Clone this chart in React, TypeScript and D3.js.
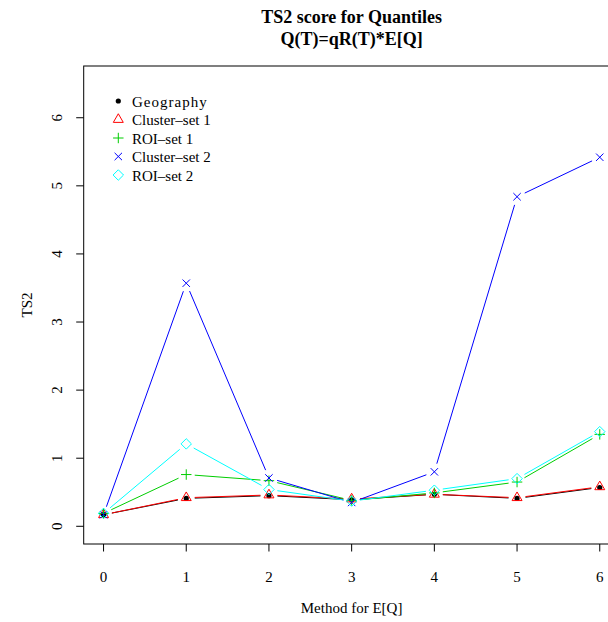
import React from "react";
import * as d3 from "d3";

const methods = [0, 1, 2, 3, 4, 5, 6];
const geography = [0.17, 0.41, 0.45, 0.39, 0.47, 0.41, 0.57];
const cluster1 = [0.17, 0.42, 0.46, 0.4, 0.47, 0.42, 0.58];
const roi1 = [0.19, 0.76, 0.67, 0.38, 0.49, 0.65, 1.35];
const cluster2 = [0.17, 3.57, 0.71, 0.35, 0.8, 4.84, 5.42];
const roi2 = [0.19, 1.21, 0.54, 0.37, 0.53, 0.7, 1.39];
const seriesNames = ["Geography", "Cluster\u2013set 1", "ROI\u2013set 1", "Cluster\u2013set 2", "ROI\u2013set 2"];
const seriesColors = ["#000000", "#FF0000", "#00CD00", "#0000FF", "#00FFFF"];
const seriesShapes = ["dot", "triangle", "plus", "cross", "diamond"];
const xTicks = [0, 1, 2, 3, 4, 5, 6];
const yTicks = [0, 1, 2, 3, 4, 5, 6];

const FONT = "'Liberation Serif', 'Times New Roman', serif";

function Marker({ shape, cx, cy, color }: { shape: string; cx: number; cy: number; color: string }) {
  const xc = 3.7;
  if (shape === "dot") return <circle cx={cx} cy={cy} r={2.6} fill={color} />;
  if (shape === "triangle") {
    const r = 1.555 * xc, a = 1.347 * xc, b = 0.778 * xc;
    return (
      <polygon
        points={`${cx},${cy - r} ${cx + a},${cy + b} ${cx - a},${cy + b}`}
        fill="none"
        stroke={color}
        strokeWidth={1}
      />
    );
  }
  if (shape === "plus") {
    const s = xc * Math.SQRT2;
    return (
      <path d={`M${cx - s},${cy}H${cx + s}M${cx},${cy - s}V${cy + s}`} stroke={color} strokeWidth={1} fill="none" />
    );
  }
  if (shape === "cross") {
    const s = xc;
    return (
      <path
        d={`M${cx - s},${cy - s}L${cx + s},${cy + s}M${cx - s},${cy + s}L${cx + s},${cy - s}`}
        stroke={color}
        strokeWidth={1}
        fill="none"
      />
    );
  }
  const s = xc * Math.SQRT2;
  return (
    <polygon
      points={`${cx},${cy - s} ${cx + s},${cy} ${cx},${cy + s} ${cx - s},${cy}`}
      fill="none"
      stroke={color}
      strokeWidth={1}
    />
  );
}

export default function App() {
  const W = 608, H = 622;
  const left = 83.7, right = 619.6, top = 66, bottom = 544;
  const x = d3.scaleLinear().domain([-0.24, 6.24]).range([left, right]);
  const y = d3.scaleLinear().domain([-0.26, 6.76]).range([bottom, top]);
  const series = [geography, cluster1, roi1, cluster2, roi2];
  const gap = 8.5;

  const segs = (vals: number[]) => {
    const out: string[] = [];
    for (let i = 0; i < vals.length - 1; i++) {
      const x0 = x(methods[i]), y0 = y(vals[i]);
      const x1 = x(methods[i + 1]), y1 = y(vals[i + 1]);
      const dx = x1 - x0, dy = y1 - y0;
      const len = Math.hypot(dx, dy);
      if (len <= 2 * gap) continue;
      const f = gap / len;
      out.push(`M${x0 + dx * f},${y0 + dy * f}L${x1 - dx * f},${y1 - dy * f}`);
    }
    return out.join("");
  };

  const legendX = 118.3, legendTextX = 132, legendY0 = 101, legendStep = 18.5;

  return (
    <svg width={W} height={H} style={{ display: "block", position: "absolute", left: 0, top: 0 }} fontFamily={FONT}>
      <rect x={0} y={0} width={W} height={H} fill="#fff" />
      <text x={351.6} y={23} textAnchor="middle" fontWeight="bold" fontSize={18}>
        TS2 score for Quantiles
      </text>
      <text x={351.6} y={45} textAnchor="middle" fontWeight="bold" fontSize={18}>
        Q(T)=qR(T)*E[Q]
      </text>
      <rect x={left} y={top} width={right - left} height={bottom - top} fill="none" stroke="#000" strokeWidth={1} />
      {xTicks.map((t) => (
        <g key={"x" + t}>
          <line x1={x(t)} x2={x(t)} y1={bottom} y2={bottom + 7.5} stroke="#000" strokeWidth={1} />
          <text x={x(t)} y={582} textAnchor="middle" fontSize={15}>
            {t}
          </text>
        </g>
      ))}
      {yTicks.map((t) => (
        <g key={"y" + t}>
          <line x1={left} x2={left - 7.5} y1={y(t)} y2={y(t)} stroke="#000" strokeWidth={1} />
          <text
            transform={`translate(62,${y(t)}) rotate(-90)`}
            textAnchor="middle"
            fontSize={15}
          >
            {t}
          </text>
        </g>
      ))}
      <text x={351.6} y={613} textAnchor="middle" fontSize={15}>
        Method for E[Q]
      </text>
      <text transform={`translate(32,${(top + bottom) / 2}) rotate(-90)`} textAnchor="middle" fontSize={15}>
        TS2
      </text>
      {series.map((vals, si) => (
        <g key={"s" + si}>
          <path d={segs(vals)} stroke={seriesColors[si]} strokeWidth={1} fill="none" />
          {vals.map((v, i) => (
            <Marker key={i} shape={seriesShapes[si]} cx={x(methods[i])} cy={y(v)} color={seriesColors[si]} />
          ))}
        </g>
      ))}
      {seriesNames.map((n, i) => (
        <g key={"l" + i}>
          <Marker shape={seriesShapes[i]} cx={legendX} cy={legendY0 + i * legendStep} color={seriesColors[i]} />
          <text
            x={legendTextX}
            y={legendY0 + i * legendStep + 5.5}
            fontSize={15}
            letterSpacing={i === 0 ? 1 : 0}
          >
            {n}
          </text>
        </g>
      ))}
    </svg>
  );
}
